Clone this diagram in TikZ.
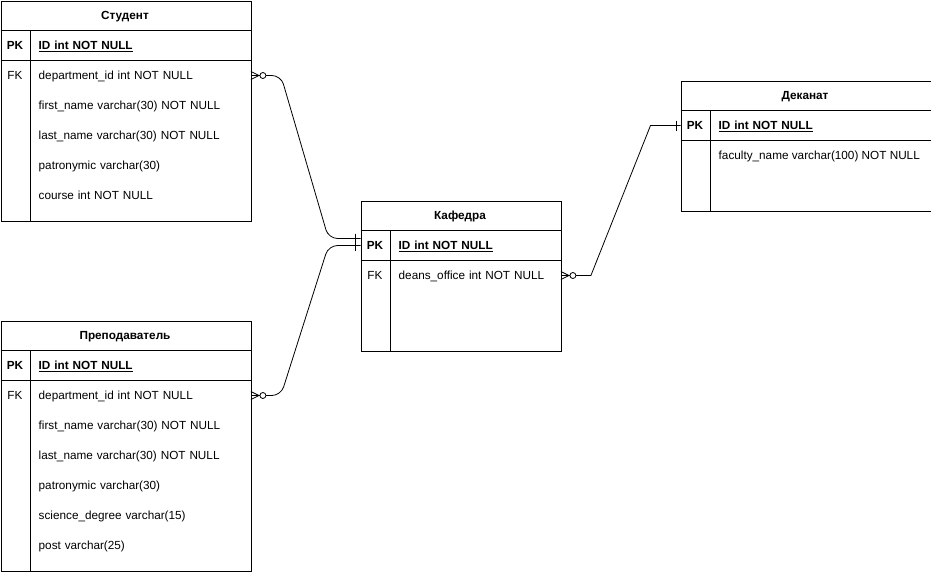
\documentclass[tikz,border=0pt]{standalone}
\usepackage{fontspec}
\setmainfont{Liberation Sans}
\usetikzlibrary{calc}
\begin{document}
\begin{tikzpicture}[x=1pt,y=-1pt,
  every node/.style={font=\fontsize{11.75}{14}\selectfont, inner sep=0pt, text height=8.5pt, text depth=0pt},
  tbox/.style={draw, line width=0.8pt, anchor=north west, inner sep=0pt},
  ttl/.style={font=\fontsize{11.75}{14}\selectfont\bfseries},
  keyc/.style={font=\fontsize{11.75}{14}\selectfont},
  keyb/.style={font=\fontsize{11.75}{14}\selectfont\bfseries},
  rowA/.style={anchor=west, text width=204pt, inner xsep=8pt, align=left, minimum height=30pt},
  rowB/.style={anchor=west, text width=154pt, inner xsep=8pt, align=left, minimum height=30pt},
  rowW/.style={anchor=west, inner xsep=8pt, minimum height=30pt},
  sep/.style={line width=0.8pt},
  conn/.style={line width=0.8pt},
  endmk/.style={line width=0.8pt}
]
\useasboundingbox (0,0) rectangle (931,571);

% ---------- Студент ----------
\node[tbox, minimum width=250pt, minimum height=220pt] (stu) at (0.5,0.5) {};
\draw[sep] (0.5,30.5) -- (250.5,30.5);
\draw[sep] (0.5,60.5) -- (250.5,60.5);
\draw[sep] (30.5,30.5) -- (30.5,220.5);
\node[ttl] (stuT) at (125,15.5) {Студент};
\node[keyb] (stuPKk) at (15,45.5) {PK};
\node[rowA, font=\fontsize{11.75}{14}\selectfont\bfseries] (stuPK) at (30.5,45.5) {\underline{ID int NOT NULL}};
\node[keyc] (stuFKk) at (15,75.5) {FK};
\node[rowA] (stuFK) at (30.5,75.5) {department\_id int NOT NULL};
\node[rowA] (stuR2) at (30.5,105.5) {first\_name varchar(30) NOT NULL};
\node[rowA] (stuR3) at (30.5,135.5) {last\_name varchar(30) NOT NULL};
\node[rowA] (stuR4) at (30.5,165.5) {patronymic varchar(30)};
\node[rowA] (stuR5) at (30.5,195.5) {course int NOT NULL};

% ---------- Преподаватель ----------
\node[tbox, minimum width=250pt, minimum height=250pt] (pre) at (0.5,320.5) {};
\draw[sep] (0.5,350.5) -- (250.5,350.5);
\draw[sep] (0.5,380.5) -- (250.5,380.5);
\draw[sep] (30.5,350.5) -- (30.5,570.5);
\node[ttl] (preT) at (125,335.5) {Преподаватель};
\node[keyb] (prePKk) at (15,365.5) {PK};
\node[rowA, font=\fontsize{11.75}{14}\selectfont\bfseries] (prePK) at (30.5,365.5) {\underline{ID int NOT NULL}};
\node[keyc] (preFKk) at (15,395.5) {FK};
\node[rowA] (preFK) at (30.5,395.5) {department\_id int NOT NULL};
\node[rowA] (preR2) at (30.5,425.5) {first\_name varchar(30) NOT NULL};
\node[rowA] (preR3) at (30.5,455.5) {last\_name varchar(30) NOT NULL};
\node[rowA] (preR4) at (30.5,485.5) {patronymic varchar(30)};
\node[rowA] (preR5) at (30.5,515.5) {science\_degree varchar(15)};
\node[rowA] (preR6) at (30.5,545.5) {post varchar(25)};

% ---------- Кафедра ----------
\node[tbox, minimum width=200pt, minimum height=150pt] (kaf) at (360.5,200.5) {};
\draw[sep] (360.5,230.5) -- (560.5,230.5);
\draw[sep] (360.5,260.5) -- (560.5,260.5);
\draw[sep] (390.5,230.5) -- (390.5,350.5);
\node[ttl] (kafT) at (460,215.5) {Кафедра};
\node[keyb] (kafPKk) at (375,245.5) {PK};
\node[rowB, font=\fontsize{11.75}{14}\selectfont\bfseries] (kafPK) at (390.5,245.5) {\underline{ID int NOT NULL}};
\node[keyc] (kafFKk) at (375,275.5) {FK};
\node[rowB] (kafFK) at (390.5,275.5) {deans\_office int NOT NULL};

% ---------- Деканат ----------
\node[tbox, minimum width=250pt, minimum height=130pt] (dek) at (680.5,80.5) {};
\draw[sep] (680.5,110.5) -- (930.5,110.5);
\draw[sep] (680.5,140.5) -- (930.5,140.5);
\draw[sep] (710.5,110.5) -- (710.5,210.5);
\node[ttl] (dekT) at (805,95.5) {Деканат};
\node[keyb] (dekPKk) at (695,125.5) {PK};
\node[rowA, font=\fontsize{11.75}{14}\selectfont\bfseries] (dekPK) at (710.5,125.5) {\underline{ID int NOT NULL}};
\node[rowW] (dekR1) at (710.5,155.5) {faculty\_name varchar(100) NOT NULL};

% ---------- connector end points ----------
\coordinate (kafIn1) at (360.5,238.5);
\coordinate (kafIn2) at (360.5,245.5);
\coordinate (dekIn) at (680.5,125.5);

% ---------- connectors ----------
\draw[conn, rounded corners=9pt] ($(stuFK.east)+(15,0)$) -- ($(stuFK.east)+(30,0)$) -- ($(kafIn1)+(-32,0)$) -- (kafIn1);
\draw[conn, rounded corners=9pt] ($(preFK.east)+(15,0)$) -- ($(preFK.east)+(30,0)$) -- ($(kafIn2)+(-32,0)$) -- (kafIn2);
\draw[conn] ($(kafFK.east)+(15,0)$) -- ($(kafFK.east)+(30,0)$) -- ($(dekIn)+(-30,0)$) -- (dekIn);

% ---------- zero-to-many markers ----------
\foreach \p in {stuFK, preFK, kafFK} {
  \draw[endmk] ($(\p.east)+(0,-4)$) -- ($(\p.east)+(8,0)$) -- ($(\p.east)+(0,4)$);
  \draw[endmk] (\p.east) -- ($(\p.east)+(9,0)$);
  \draw[endmk, fill=white] ($(\p.east)+(12,0)$) circle (3pt);
}
% ---------- one markers ----------
\draw[endmk] ($(kafIn1)+(-5,-5)$) -- ($(kafIn1)+(-5,5)$);
\draw[endmk] ($(kafIn2)+(-5,-5)$) -- ($(kafIn2)+(-5,5)$);
\draw[endmk] ($(dekIn)+(-4,-5)$) -- ($(dekIn)+(-4,5)$);
\end{tikzpicture}
\end{document}
